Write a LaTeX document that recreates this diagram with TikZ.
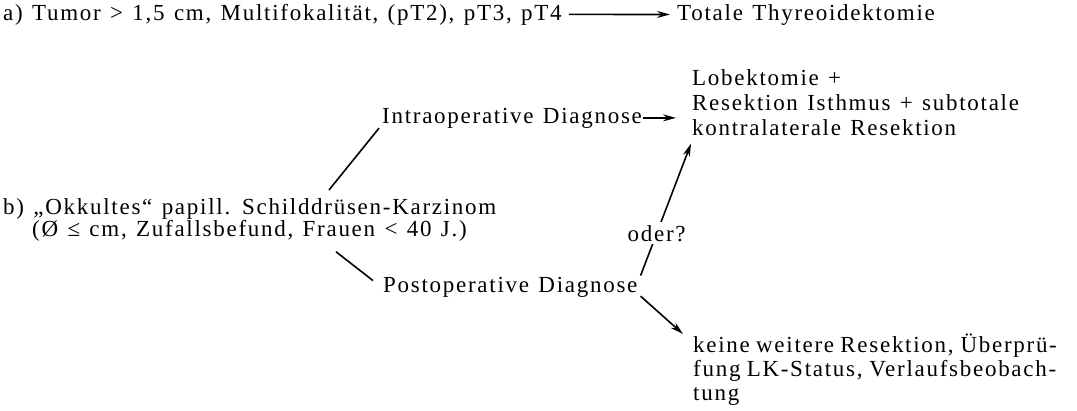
\documentclass[tikz,border=0pt]{standalone}
\usepackage{fontspec}
\setmainfont{Liberation Serif}[LetterSpace=7.5,WordSpace=1.25]
\usetikzlibrary{arrows.meta}

\begin{document}
\begin{tikzpicture}[x=1pt,y=-1pt,
  txt/.style={inner sep=1pt,font=\fontsize{23pt}{25pt}\selectfont},
  ln/.style={line width=1.6pt},
  arr/.style={ln,-{Stealth[length=13pt,width=7pt]}}]
\useasboundingbox (0,0) rectangle (1077,410);
% a) row
\node[txt,anchor=base west] (a) at (2,20) {a) Tumor > 1,5 cm, Multifokalität, (pT2), pT3, pT4};
\node[txt,anchor=base west] (total) at (676,20) {Totale Thyreoidektomie};
\draw[arr,shorten <=6pt,shorten >=6pt] (a) -- (total);
% b) row
\node[txt,anchor=north west,font=\fontsize{23pt}{22pt}\selectfont] (b) at (2,197)
  {\begin{tabular}{@{}l@{}}b) „Okkultes“ papill. Schilddrüsen-Karzinom\\
   \hspace*{29pt}(Ø ≤ cm, Zufallsbefund, Frauen < 40 J.)\end{tabular}};
\node[txt,anchor=base west] (intra) at (381,123) {Intraoperative Diagnose};
\node[txt,anchor=base west] (post) at (382,292) {Postoperative Diagnose};
\node[txt,anchor=north west,align=left] (lobe) at (691,68)
  {Lobektomie +\\Resektion Isthmus + subtotale\\kontralaterale Resektion};
\node[txt,anchor=north west,align=left,font=\fontsize{23pt}{24pt}\selectfont] (keine) at (692,333)
  {\makebox[355pt][s]{keine weitere Resektion, Überprü-}\\
   \makebox[355pt][s]{fung LK-Status, Verlaufsbeobach-}\\tung};
% connectors
\draw[ln] ([xshift=327pt,yshift=7pt]b.north west) -- ([xshift=-2pt,yshift=1pt]intra.south west);
\draw[ln] ([xshift=334pt,yshift=-7pt]b.south west) -- ([xshift=-9pt,yshift=-5pt]post.north west);
\draw[arr,shorten >=15pt] (intra.east) -- (intra.east -| lobe.west);
\draw[arr] ([xshift=2pt]post.north east) -- ([yshift=-7pt]lobe.south west)
  node[txt,pos=0.32,fill=white,inner sep=3pt] (oder) {oder?};
\draw[arr] ([xshift=2pt,yshift=2pt]post.south east) -- ([xshift=-9pt,yshift=-1pt]keine.north west);
\end{tikzpicture}
\end{document}
